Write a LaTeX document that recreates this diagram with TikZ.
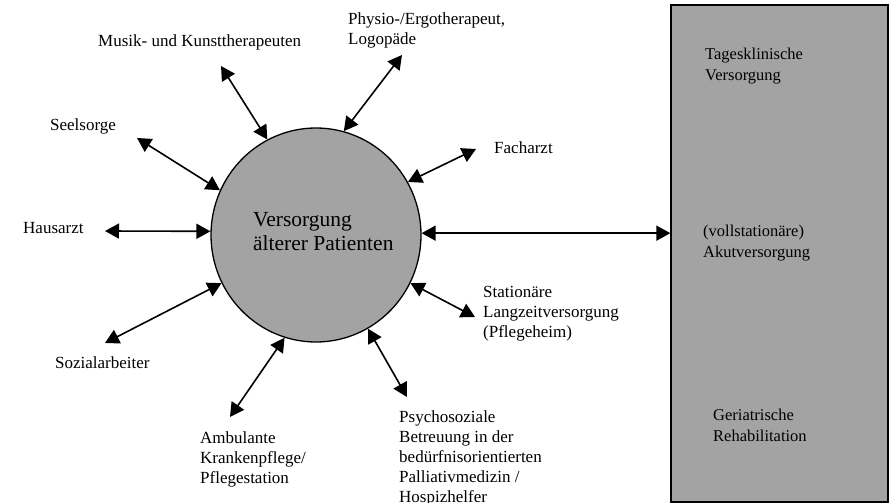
\documentclass[tikz,border=0pt]{standalone}
\usepackage{fontspec}
\setmainfont{Liberation Serif}
\usetikzlibrary{arrows.meta,shapes.geometric}
\begin{document}
\begin{tikzpicture}[x=1pt,y=-1pt,
  lbl/.style={inner sep=0pt, anchor=base west, align=left, font=\fontsize{17}{20}\selectfont},
  boxlbl/.style={inner sep=0pt, anchor=base west, align=left, font=\fontsize{16.5}{21}\selectfont},
  conn/.style={{Triangle[length=14pt,width=15pt]}-{Triangle[length=14pt,width=15pt]}, line width=1.6pt},
  stipple/.style={fill=black!36, draw=black, line width=1.3pt}]
\useasboundingbox (0,0) rectangle (891,503);
% central ellipse
\node[stipple, ellipse, inner sep=0pt, minimum width=210pt, minimum height=214pt] (c) at (316,235) {};
\node[inner sep=0pt, anchor=base west, align=left, font=\fontsize{21.5}{24}\selectfont] (ct) at (253,250) {Versorgung\\älterer Patienten};
% right box
\node[stipple, rectangle, inner sep=0pt, minimum width=217pt, minimum height=497pt] (r) at (779.5,253.5) {};
\node[boxlbl] (r1) at (705,81) {Tagesklinische\\Versorgung};
\node[boxlbl] (r2) at (703,257) {(vollstationäre)\\Akutversorgung};
\node[boxlbl] (r3) at (713,441) {Geriatrische\\Rehabilitation};
% labels (base = baseline of last line)
\node[lbl] (musik) at (98,47) {Musik- und Kunsttherapeuten};
\node[lbl] (physio) at (348,45) {Physio-/Ergotherapeut,\\Logopäde};
\node[lbl] (seel) at (50,130) {Seelsorge};
\node[lbl] (fach) at (494,153) {Facharzt};
\node[lbl] (haus) at (23,233) {Hausarzt};
\node[lbl] (sozial) at (55,368) {Sozialarbeiter};
\node[lbl] (amb) at (200,483) {Ambulante\\Krankenpflege/\\Pflegestation};
\node[lbl] (psych) at (399,502) {Psychosoziale\\Betreuung in der\\bedürfnisorientierten\\Palliativmedizin /\\Hospizhelfer};
\node[lbl] (stat) at (483,337) {Stationäre\\Langzeitversorgung\\(Pflegeheim)};
% connector ends
\coordinate (e1) at (221,66);
\coordinate (e2) at (402,55);
\coordinate (e3) at (137,138);
\coordinate (e4) at (476,149);
\coordinate (e5) at (105,231);
\coordinate (e7) at (105,343);
\coordinate (e8) at (230,417);
\coordinate (e9) at (407,397);
\coordinate (e10) at (475,317);
% connectors
\draw[conn] (c.117) -- (e1);
\draw[conn] (c.75.1) -- (e2);
\draw[conn] (c.155.3) -- (e3);
\draw[conn] (c.30.9) -- (e4);
\draw[conn] (c.178) -- (e5);
\draw[conn] (c.1.6) -- (c.1.6 -| r.west);
\draw[conn] (c.207.3) -- (e7);
\draw[conn] (c.253.1) -- (e8);
\draw[conn] (c.299.5) -- (e9);
\draw[conn] (c.333.4) -- (e10);
\end{tikzpicture}
\end{document}
